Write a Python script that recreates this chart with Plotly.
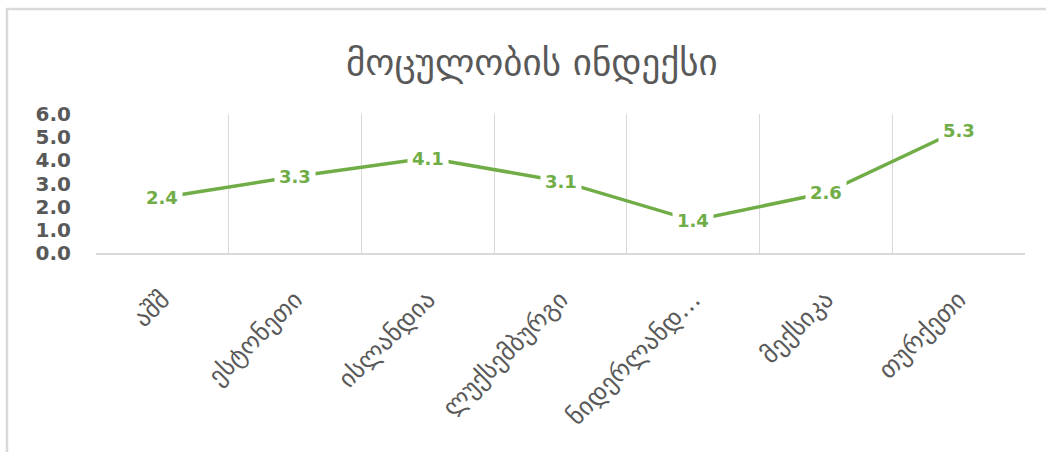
import plotly.graph_objects as go

categories = ["აშშ", "ესტონეთი", "ისლანდია", "ლუქსემბურგი", "ნიდერლანდ…", "მექსიკა", "თურქეთი"]
values = [2.4, 3.3, 4.1, 3.1, 1.4, 2.6, 5.3]
title_text = "მოცულობის ინდექსი"

W, H = 1046, 452
L, R, T, B = 96, 21, 114, 199
PW, PH = W - L - R, H - T - B

def px_x(x):
    return (x - L) / PW

def px_y(y):
    return (H - B - y) / PH

GREEN = "#70ad47"
GRAY = "#595959"
GRID = "#d9d9d9"

fig = go.Figure()
fig.add_trace(go.Scatter(
    x=categories, y=values, mode="lines",
    line=dict(color=GREEN, width=3.5),
    hoverinfo="skip", showlegend=False,
))

for c, v in zip(categories, values):
    fig.add_annotation(
        x=c, y=v, xref="x", yref="y", text=f"{v:.1f}", showarrow=False,
        font=dict(family="DejaVu Sans", size=18, color=GREEN, weight="bold"),
        bgcolor="white", borderpad=4, xanchor="center", yanchor="middle",
    )

fig.add_annotation(
    x=px_x(532), y=px_y(62), xref="paper", yref="paper", text=title_text,
    showarrow=False, xanchor="center", yanchor="middle",
    font=dict(family="DejaVu Sans", size=37, color=GRAY),
)

# outer chart border (left and top edges visible)
fig.add_shape(type="line", xref="paper", yref="paper",
              x0=px_x(7), x1=px_x(7), y0=px_y(9), y1=px_y(460),
              line=dict(color=GRID, width=2.5))
fig.add_shape(type="line", xref="paper", yref="paper",
              x0=px_x(6), x1=px_x(1060), y0=px_y(9), y1=px_y(9),
              line=dict(color=GRID, width=2.5))

fig.update_layout(
    width=W, height=H,
    margin=dict(l=L, r=R, t=T, b=B, autoexpand=False),
    paper_bgcolor="white", plot_bgcolor="white",
    xaxis=dict(
        type="category", range=[-0.5, len(categories) - 0.5],
        tickson="boundaries", showgrid=True, gridcolor=GRID, gridwidth=1,
        showline=True, linecolor=GRID, linewidth=2, ticks="",
        tickangle=-45, ticklabelstandoff=20,
        tickfont=dict(family="DejaVu Sans", size=25, color=GRAY),
        mirror=False, zeroline=False, fixedrange=True,
    ),
    yaxis=dict(
        range=[0, 6], tickmode="linear", tick0=0, dtick=1, tickformat=".1f",
        showgrid=False, zeroline=False, showline=False, ticks="",
        ticklabelstandoff=24,
        tickfont=dict(family="DejaVu Sans", size=20, color=GRAY, weight="bold"),
        fixedrange=True,
    ),
)

fig.write_html(
    "out.html",
    config={"displayModeBar": False, "staticPlot": True},
    post_script="document.body.style.margin='0';document.body.style.overflow='hidden';",
)
